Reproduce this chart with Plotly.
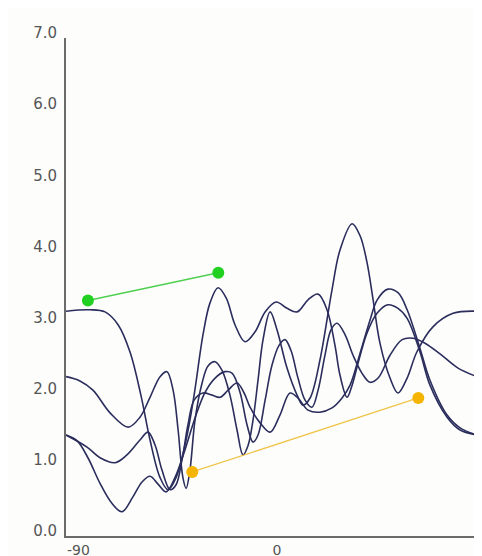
import plotly.graph_objects as go

# ---- data (x in degrees, y in value units) ----
curve_a_x = [-90, -79.5, -72.9, -67.2, -62, -57.2, -53.2, -48.8, -45.3, -41.8, -37.4, -33.9, -30, -26.9, -23.4,
             -19.9, -16, -11.6, -7.2, -2.8, 2, 6.8, 11.2, 16, 20.4, 24.3, 27.8, 30, 33.1, 35.3, 37.5, 41.8,
             46.2, 51, 55.4, 59.4, 65, 69.4, 76.9, 82.6, 90]
curve_a_y = [3.16, 3.18, 3.15, 2.97, 2.59, 1.98, 1.35, 0.82, 0.65, 0.82, 1.35, 1.98, 2.83, 3.28, 3.49,
             3.35, 2.97, 2.73, 2.87, 3.15, 3.29, 3.20, 3.15, 3.32, 3.40, 3.18, 2.68, 2.26, 1.95, 2.12, 2.38, 2.85,
             3.13, 3.25, 3.20, 3.06, 2.59, 2.12, 1.67, 1.49, 1.42]

curve_b_x = [-90, -83.9, -78.2, -70.7, -62.8, -57.6, -53.2, -48.8, -45.8, -43.1, -40.9, -38.8, -37.4, -35.7,
             -33.5, -30.4, -27.8, -24.7, -21.7, -18.2, -15.1, -12.5, -10.3, -8.1, -5.9, -3.7, -0.6, 2.4, 6.8,
             11.2, 13.8, 16.9, 21.2, 26.5, 30, 35.3, 38.8, 41.8, 44.5, 47.5, 51.9, 55.4, 59.4, 63.7, 70.7,
             79.5, 90]
curve_b_y = [2.24, 2.18, 2.05, 1.73, 1.53, 1.67, 1.95, 2.24, 2.31, 2.05, 1.49, 0.82, 0.67, 0.93,
             1.63, 2.15, 2.39, 2.45, 2.33, 1.98, 1.49, 1.14, 1.27, 1.63, 2.19, 2.76, 3.15, 2.90, 2.36,
             1.98, 1.84, 1.94, 2.47, 3.46, 4.02, 4.39, 4.22, 3.85, 3.32, 2.71, 2.22, 2.01, 2.22, 2.59, 2.94,
             3.13, 3.16]

curve_c_x = [-90, -80.8, -75.1, -68.5, -63.3, -57.6, -54.1, -51, -48, -44.4, -41.8, -39.2, -36.6, -33.9,
             -30, -26, -22.5, -19, -15.1, -12, -9.4, -5, -0.6, 3.7, 8.1, 11.6, 16, 21.2, 26.5, 30.9, 34.4,
             38.8, 43.2, 46.3, 51, 55.4, 59.4, 65, 69.4, 76.9, 82.6, 90]
curve_c_y = [1.42, 1.25, 1.10, 1.03, 1.14, 1.35, 1.46, 1.28, 0.93, 0.65, 0.72, 1.07, 1.56, 1.91,
             2.01, 1.98, 1.95, 2.05, 2.15, 2.01, 1.81, 1.59, 1.46, 1.70, 2.01, 1.94, 1.77, 1.74, 1.80, 1.94, 2.12,
             2.57, 3.04, 3.32, 3.47, 3.42, 3.18, 2.64, 2.19, 1.70, 1.52, 1.42]

curve_d_x = [-90, -85.2, -80.4, -75.1, -69.9, -65.5, -60.7, -56.7, -53.2, -49.7, -46.2, -42.3, -37.9, -33.5,
             -29.1, -24.7, -20.4, -17.3, -13.8, -10.7, -8.1, -5.9, -2.8, 0.2, 3.3, 5.9, 8.5, 11.6, 14.7, 17.7,
             20.4, 23.4, 26.1, 28.7, 32.2, 35.7, 39.6, 43.2, 46.7, 51.9, 57.2, 62, 67.2, 73.8, 81.7, 90]
curve_d_y = [1.42, 1.34, 1.10, 0.74, 0.46, 0.34, 0.55, 0.76, 0.84, 0.73, 0.62, 0.82, 1.21, 1.66,
             2.02, 2.22, 2.31, 2.29, 2.02, 1.56, 1.32, 1.42, 1.91, 2.40, 2.68, 2.76, 2.61, 2.22, 1.91, 1.81,
             2.05, 2.54, 2.90, 2.99, 2.83, 2.54, 2.29, 2.16, 2.22, 2.54, 2.76, 2.78, 2.71, 2.56, 2.36, 2.24]

green_x = [-80.4, -23.3]
green_y = [3.31, 3.70]
orange_x = [-34.7, 64.3]
orange_y = [0.90, 1.94]

x_ticks = [-90, 0, 90]
x_tick_labels = ["-90", "0", "90"]
y_ticks = [0, 1, 2, 3, 4, 5, 6, 7]
y_tick_labels = ["0.0", "1.0", "2.0", "3.0", "4.0", "5.0", "6.0", "7.0"]

NAVY = "#2b2d5c"

fig = go.Figure()
for cx, cy in [(curve_a_x, curve_a_y), (curve_b_x, curve_b_y), (curve_c_x, curve_c_y), (curve_d_x, curve_d_y)]:
    fig.add_trace(go.Scatter(x=cx, y=cy, mode="lines",
                             line=dict(color=NAVY, width=1.6, shape="spline", smoothing=1.0),
                             hoverinfo="skip", showlegend=False))

fig.add_trace(go.Scatter(x=green_x, y=green_y, mode="lines+markers",
                         line=dict(color="#4fcf4f", width=1.4),
                         marker=dict(color="#22d022", size=12),
                         showlegend=False))
fig.add_trace(go.Scatter(x=orange_x, y=orange_y, mode="lines+markers",
                         line=dict(color="#efc44a", width=1.3),
                         marker=dict(color="#f4b400", size=12),
                         showlegend=False))

axis_font = dict(family="DejaVu Sans", size=15, color="#555555")
x_font = dict(family="DejaVu Sans", size=14, color="#555555")
# The page body has an 8px default margin, so the figure is sized/offset to compensate.
fig.update_layout(
    template="none",
    width=474, height=548,
    margin=dict(l=58, r=5, t=30, b=20, pad=0),
    paper_bgcolor="#fdfefc",
    plot_bgcolor="#fdfefc",
    showlegend=False,
    xaxis=dict(range=[-90, 90], tickvals=x_ticks, ticktext=x_tick_labels,
               showgrid=False, zeroline=False, showline=True, linecolor="#6b6b6b", linewidth=2,
               ticks="", ticklabelposition="outside right", ticklabeloverflow="allow",
               ticklabelstandoff=0, tickfont=x_font, automargin=False, fixedrange=True),
    yaxis=dict(range=[0, 7], tickvals=y_ticks, ticktext=y_tick_labels,
               showgrid=False, zeroline=False, showline=True, linecolor="#6b6b6b", linewidth=2,
               ticks="", ticklabelposition="outside", ticklabelshift=-5, ticklabeloverflow="allow",
               ticklabelstandoff=4, tickfont=axis_font, automargin=False, fixedrange=True),
)

fig.write_html("out.html")
